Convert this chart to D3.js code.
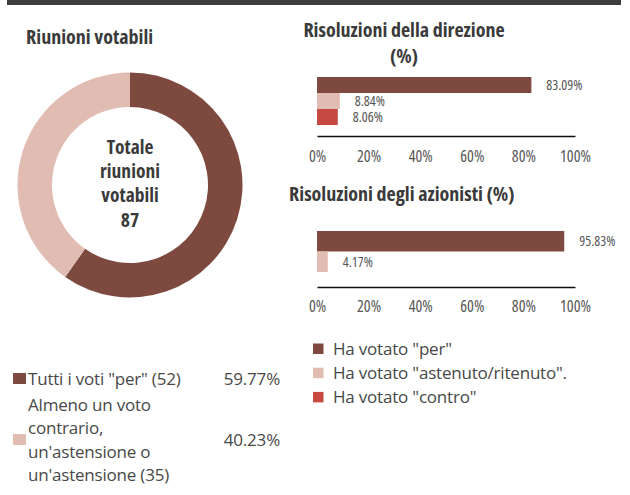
<!DOCTYPE html>
<meta charset="utf-8">
<script src="https://d3js.org/d3.v7.min.js"></script>
<style>
  body { margin: 0; background: #fff; }
  text { font-family: "Open Sans", sans-serif; }
  .title { font-size: 20px; font-weight: bold; font-stretch: 75%; fill: #3a3a3a; }
  .center { font-size: 19.5px; font-weight: bold; font-stretch: 75%; fill: #3a3a3a; }
  .legend { font-size: 17px; font-stretch: 90%; letter-spacing: -0.2px; fill: #484848; }
  .tick text { font-size: 16px; font-stretch: 75%; fill: #555; }
  .value { font-size: 14px; font-stretch: 75%; fill: #555; }
</style>
<div id="chart"></div>
<script>

// donut data
var donutLabels = [["Tutti i voti \"per\" (52)"],
                   ["Almeno un voto", "contrario,", "un'astensione o", "un'astensione (35)"]];
var donutValues = [52, 35];
var donutPct = ["59.77%", "40.23%"];
var donutColors = ["#7e4a40", "#e1bcb2"];

// bar charts
var voteTypes = ["Ha votato \"per\"", "Ha votato \"astenuto/ritenuto\".", "Ha votato \"contro\""];
var voteColors = ["#7e4a40", "#e1bcb2", "#c74a42"];
var direzioneValues = [83.09, 8.84, 8.06];
var azionistiValues = [95.83, 4.17];
var tickValues = [0, 20, 40, 60, 80, 100];

var svg = d3.select("#chart")
  .append("svg")
    .attr("width", 630)
    .attr("height", 495);

// dark top band
svg.append("rect")
  .attr("x", 7).attr("y", 0)
  .attr("width", 614).attr("height", 5)
  .attr("fill", "#3d3d3d");

// ---- donut ----
svg.append("text")
  .attr("class", "title")
  .attr("x", 26).attr("y", 44)
  .text("Riunioni votabili");

var pie = d3.pie().sort(null)(donutValues);
var arc = d3.arc().innerRadius(78).outerRadius(112.5);

var donut = svg.append("g").attr("transform", "translate(130,185)");
donut.selectAll("path")
  .data(pie)
  .enter()
  .append("path")
    .attr("d", arc)
    .attr("fill", function(d, i) { return donutColors[i]; });

var centerLines = ["Totale", "riunioni", "votabili", d3.sum(donutValues)];
donut.selectAll(".center")
  .data(centerLines)
  .enter()
  .append("text")
    .attr("class", "center")
    .attr("x", 0)
    .attr("y", function(d, i) { return -31.5 + i * 24.4; })
    .attr("text-anchor", "middle")
    .text(function(d) { return d; });

// donut legend (baselines)
var legY = [385, 446];
donutLabels.forEach(function(lines, i) {
  var first = legY[i] - (lines.length - 1) / 2 * 23.4;
  svg.append("rect")
    .attr("x", 13).attr("y", legY[i] - 12)
    .attr("width", 13).attr("height", 11)
    .attr("fill", donutColors[i]);
  lines.forEach(function(l, j) {
    svg.append("text")
      .attr("class", "legend")
      .attr("x", 28).attr("y", first + j * 23.4)
      .text(l);
  });
  svg.append("text")
    .attr("class", "legend")
    .attr("x", 280).attr("y", legY[i])
    .attr("text-anchor", "end")
    .text(donutPct[i]);
});

// ---- bar charts ----
var x = d3.scaleLinear().domain([0, 100]).range([317, 575]);

function barChart(values, top, bandH, axisY, pad) {
  var y = d3.scaleBand()
    .domain(d3.range(values.length))
    .range([top, top + bandH * values.length])
    .padding(0);

  svg.append("g")
    .selectAll("rect")
    .data(values)
    .enter()
    .append("rect")
      .attr("x", x(0))
      .attr("y", function(d, i) { return y(i); })
      .attr("width", function(d) { return x(d) - x(0); })
      .attr("height", y.bandwidth())
      .attr("fill", function(d, i) { return voteColors[i]; });

  svg.append("g")
    .selectAll("text")
    .data(values)
    .enter()
    .append("text")
      .attr("class", "value")
      .attr("x", function(d) { return x(d) + 15; })
      .attr("y", function(d, i) { return y(i) + y.bandwidth() / 2; })
      .attr("dy", "0.36em")
      .text(function(d) { return d.toFixed(2) + "%"; });

  var axis = svg.append("g")
    .attr("transform", "translate(0," + axisY + ")")
    .call(d3.axisBottom(x)
      .tickValues(tickValues)
      .tickSize(0)
      .tickPadding(pad)
      .tickFormat(function(d) { return d + "%"; }));
  axis.attr("font-family", null).attr("font-size", null);
  axis.select(".domain").attr("stroke", "#111").attr("stroke-width", 1.5);
  axis.selectAll("text").attr("fill", null);
}

svg.append("text")
  .attr("class", "title")
  .attr("x", 404).attr("y", 37)
  .attr("text-anchor", "middle")
  .text("Risoluzioni della direzione");
svg.append("text")
  .attr("class", "title")
  .attr("x", 404).attr("y", 63)
  .attr("text-anchor", "middle")
  .text("(%)");
barChart(direzioneValues, 77, 16, 136, 15);

svg.append("text")
  .attr("class", "title")
  .attr("x", 289).attr("y", 201)
  .text("Risoluzioni degli azionisti (%)");
barChart(azionistiValues, 231, 20.5, 287, 14);

// vote legend
var vl = svg.append("g");
voteTypes.forEach(function(t, i) {
  var base = 355 + i * 24.2;
  vl.append("rect")
    .attr("x", 313).attr("y", base - 11.5)
    .attr("width", 10.5).attr("height", 10.5)
    .attr("fill", voteColors[i]);
  vl.append("text")
    .attr("class", "legend")
    .attr("x", 333).attr("y", base)
    .text(t);
});

</script>
